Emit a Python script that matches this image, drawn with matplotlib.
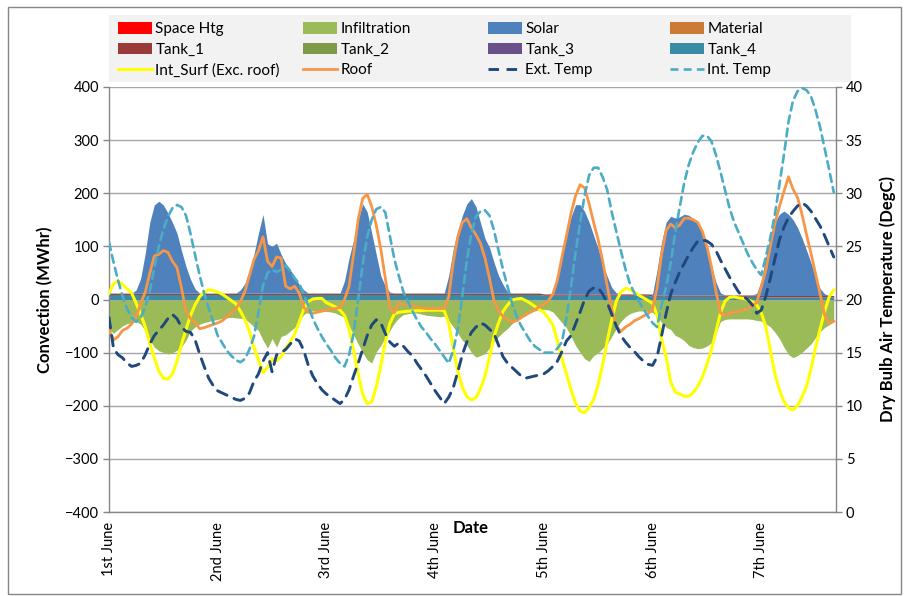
import numpy as np
import matplotlib
matplotlib.use("Agg")
import matplotlib.pyplot as plt
from matplotlib.patches import Patch, Rectangle
from matplotlib.lines import Line2D
from matplotlib.transforms import ScaledTranslation

plt.rcParams['font.family'] = ['Lato', 'DejaVu Sans']

# ---------------------------------------------------------------- data
# hourly values, 1st June 00:00 onwards
hours = np.arange(161)
day_ticks = [0, 24, 48, 72, 96, 120, 144]
day_labels = ['1st June', '2nd June', '3rd June', '4th June',
              '5th June', '6th June', '7th June']

# convection components (MWhr)
solar = [
    0, 0, 0, 0, 0, 0, 6, 28, 75, 133, 166, 173, 166, 151, 133, 113, 80, 50, 26, 8, 0, 0, 0, 0,
    0, 0, 0, 0, 0, 6, 18, 43, 73, 113, 148, 93, 88, 94, 73, 56, 44, 31, 16, 6, 0, 0, 0, 0,
    0, 0, 0, 0, 23, 66, 100, 138, 168, 153, 113, 73, 33, 13, 2, 0, 0, 0, 0, 0, 0, 0, 0, 0,
    0, 0, 0, 33, 83, 118, 146, 168, 178, 163, 133, 103, 86, 58, 33, 16, 2, 0, 0, 0, 0, 0, 0, 0,
    0, 0, 2, 25, 70, 110, 145, 168, 168, 155, 135, 110, 85, 55, 33, 12, 2, 0, 0, 0, 0, 0, 0, 0,
    2, 47, 100, 137, 148, 145, 147, 152, 150, 144, 132, 117, 84, 54, 24, 4, 0, 0, 0, 0, 0, 0, 0, 3,
    28, 73, 111, 138, 153, 159, 153, 143, 128, 108, 85, 61, 35, 13, 3, 0, 0,
]
infiltration = [
    -55, -62, -55, -48, -44, -42, -40, -45, -57, -75, -88, -95, -98, -101, -99, -94, -88, -75, -58, -50, -45, -42, -40, -38,
    -36, -34, -33, -32, -33, -34, -35, -42, -50, -57, -75, -90, -72, -88, -68, -65, -58, -51, -38, -27, -21, -20, -20, -20,
    -21, -22, -24, -28, -32, -48, -65, -82, -98, -112, -118, -97, -85, -70, -57, -43, -33, -27, -25, -24, -24, -26, -28, -29,
    -30, -31, -30, -38, -50, -62, -75, -84, -98, -107, -104, -100, -90, -78, -68, -60, -53, -44, -37, -33, -28, -24, -20, -18,
    -17, -18, -22, -32, -42, -52, -68, -85, -98, -110, -115, -104, -99, -90, -82, -68, -53, -40, -31, -25, -22, -20, -20, -21,
    -23, -30, -42, -51, -55, -66, -70, -76, -85, -89, -91, -90, -86, -80, -62, -40, -36, -35, -35, -35, -35, -35, -36, -38,
    -39, -44, -50, -60, -72, -88, -102, -108, -104, -98, -90, -82, -70, -59, -51, -46, -40,
]
material = [
    -1.5, -1.5, -1.5, -1.5, -1.5, -1.5, -1.5, -1.5, -1.5, -1.5, -1.5, -1.5, -1.5, -1.5, -1.5, -1.5, -1.5, -1.5, -1.5, -1.5, -1.5, -1.5, -1.5, -1.5,
    -1.5, -1.5, -1.5, -1.5, -1.5, -1.5, -1.5, -1.5, -1.5, -1.5, -1.5, -1.5, -1.5, -1.5, -1.5, -1.5, -1.5, -1.5, -1.5, -1.5, -1.5, -1.5, -1.5, -1.5,
    -1.5, -1.5, -1.5, -1.5, -1.5, -1.5, -1.5, -1.5, -1.5, -1.5, -1.5, -1.5, -1.5, -1.5, -1.5, -1.5, -1.5, -1.5, -1.5, -1.5, -1.5, -1.5, -1.5, -1.5,
    -1.5, -1.5, -1.5, -1.5, -1.5, -1.5, -1.5, -1.5, -1.5, -1.5, -1.5, -1.5, -1.5, -1.5, -1.5, -1.5, -1.5, -1.5, -1.5, -1.5, -1.5, -1.5, -1.5, -1.5,
    -1.5, -1.5, -1.5, -1.5, -1.5, -1.5, -1.5, -1.5, -1.5, -1.5, -1.5, -1.5, -1.5, -1.5, -1.5, -1.5, -1.5, -1.5, -1.5, -1.5, -1.5, -1.5, -1.5, -1.5,
    -1.5, -1.5, -1.5, -1.5, -1.5, -1.5, -1.5, -1.5, -1.5, -1.5, -1.5, -1.5, -1.5, -1.5, -1.5, -1.5, -1.5, -1.5, -1.5, -1.5, -1.5, -1.5, -1.5, -1.5,
    -1.5, -1.5, -1.5, -1.5, -1.5, -1.5, -1.5, -1.5, -1.5, -1.5, -1.5, -1.5, -1.5, -1.5, -1.5, -1.5, -1.5,
]
tank_1 = [
    2.5, 2.5, 2.5, 2.5, 2.5, 2.5, 2.5, 2.5, 2.5, 2.5, 2.5, 2.5, 2.5, 2.5, 2.5, 2.5, 2.5, 2.5, 2.5, 2.5, 2.5, 2.5, 2.5, 2.5,
    2.5, 2.5, 2.5, 2.5, 2.5, 2.5, 2.5, 2.5, 2.5, 2.5, 2.5, 2.5, 2.5, 2.5, 2.5, 2.5, 2.5, 2.5, 2.5, 2.5, 2.5, 2.5, 2.5, 2.5,
    2.5, 2.5, 2.5, 2.5, 2.5, 2.5, 2.5, 2.5, 2.5, 2.5, 2.5, 2.5, 2.5, 2.5, 2.5, 2.5, 2.5, 2.5, 2.5, 2.5, 2.5, 2.5, 2.5, 2.5,
    2.5, 2.5, 2.5, 2.5, 2.5, 2.5, 2.5, 2.5, 2.5, 2.5, 2.5, 2.5, 2.5, 2.5, 2.5, 2.5, 2.5, 2.5, 2.5, 2.5, 2.5, 2.5, 2.5, 2.5,
    2.5, 2.5, 2.5, 2.5, 2.5, 2.5, 2.5, 2.5, 2.5, 2.5, 2.5, 2.5, 2.5, 2.5, 2.5, 2.5, 2.5, 2.5, 2.5, 2.5, 2.5, 2.5, 2.5, 2.5,
    2.5, 2.5, 2.5, 2.5, 2.5, 2.5, 2.5, 2.5, 2.5, 2.5, 2.5, 2.5, 2.5, 2.5, 2.5, 2.5, 2.5, 2.5, 2.5, 2.5, 2.5, 2.5, 2.5, 2.5,
    2.5, 2.5, 2.5, 2.5, 2.5, 2.5, 2.5, 2.5, 2.5, 2.5, 2.5, 2.5, 2.5, 2.5, 2.5, 2.5, 2.5,
]
tank_4 = [
    9.5, 9.5, 9.5, 9.5, 9.5, 9.5, 9.5, 9.5, 9.5, 9.5, 9.5, 9.5, 9.5, 9.5, 9.5, 9.5, 9.5, 9.5, 9.5, 9.5, 9.5, 9.5, 9.5, 9.5,
    9.5, 9.5, 9.5, 9.5, 9.5, 9.5, 9.5, 9.5, 9.5, 9.5, 9.5, 9.5, 9.5, 9.5, 9.5, 9.5, 9.5, 9.5, 9.5, 9.5, 9.5, 9.5, 9.5, 9.5,
    9.5, 9.5, 9.5, 9.5, 9.5, 9.5, 9.5, 9.5, 9.5, 9.5, 9.5, 9.5, 9.5, 9.5, 9.5, 9.5, 9.5, 9.5, 9.5, 9.5, 9.5, 9.5, 9.5, 9.5,
    9.5, 9.5, 9.5, 9.5, 9.5, 9.5, 9.5, 9.5, 9.5, 9.5, 9.5, 9.5, 9.5, 9.5, 9.5, 9.5, 9.5, 9.5, 9.5, 9.5, 9.5, 9.5, 9.5, 9.5,
    8.0, 8.0, 8.0, 8.0, 8.0, 8.0, 8.0, 8.0, 8.0, 8.0, 8.0, 8.0, 8.0, 8.0, 8.0, 8.0, 8.0, 8.0, 8.0, 8.0, 8.0, 8.0, 8.0, 8.0,
    6.0, 6.0, 6.0, 6.0, 6.0, 6.0, 6.0, 6.0, 6.0, 6.0, 6.0, 6.0, 6.0, 6.0, 6.0, 6.0, 6.0, 6.0, 6.0, 6.0, 6.0, 6.0, 6.0, 6.0,
    5.0, 5.0, 5.0, 5.0, 5.0, 5.0, 5.0, 5.0, 5.0, 5.0, 5.0, 5.0, 5.0, 5.0, 5.0, 5.0, 5.0,
]
int_surf = [
    12, 30, 35, 28, 20, 12, -7, -28, -51, -82, -110, -135, -148, -150, -140, -116, -85, -56, -30, -10, 5, 14, 18, 17,
    14, 10, 4, -2, -8, -22, -38, -60, -90, -114, -138, -128, -112, -115, -108, -92, -80, -65, -42, -18, -4, 1, 2, 2,
    -6, -10, -14, -20, -30, -55, -95, -140, -178, -196, -193, -165, -125, -80, -45, -27, -24, -23, -22, -22, -21, -21, -20, -20,
    -20, -20, -21, -45, -92, -135, -165, -183, -189, -185, -168, -145, -108, -70, -44, -22, -10, -1, 1, 2, -2, -7, -13, -19,
    -24, -35, -48, -78, -112, -140, -170, -195, -210, -213, -203, -188, -160, -122, -78, -38, -3, 14, 21, 19, 14, 8, 3, -2,
    -7, -30, -75, -108, -155, -174, -178, -182, -182, -175, -163, -146, -122, -95, -60, -25, -3, 4, 5, 3, 2, 0, -4, -10,
    -25, -51, -95, -140, -170, -192, -204, -208, -200, -183, -164, -130, -90, -55, -22, 5, 18,
]
roof = [
    -57, -76, -70, -58, -54, -46, -32, -8, 14, 49, 82, 85, 92, 89, 72, 60, 22, -22, -36, -43, -55, -53, -50, -47,
    -44, -40, -33, -25, -18, -4, 15, 45, 75, 92, 118, 72, 62, 80, 78, 25, 20, 25, 12, -15, -24, -26, -24, -22,
    -20, -18, -17, -15, 0, 25, 85, 150, 190, 198, 175, 140, 95, 40, -15, -25, -7, -9, -10, -12, -14, -16, -17, -17,
    -17, -17, -17, 5, 70, 118, 145, 152, 135, 122, 106, 78, 40, -2, -22, -32, -38, -42, -40, -34, -29, -23, -19, -14,
    -9, -2, 10, 37, 80, 120, 162, 195, 216, 210, 180, 145, 112, 72, 25, -18, -50, -60, -52, -47, -40, -36, -31, -27,
    -18, 22, 85, 130, 142, 135, 140, 153, 153, 150, 145, 128, 100, 62, 15, -25, -30, -26, -24, -22, -20, -18, -12, -6,
    24, 55, 100, 143, 175, 203, 231, 208, 192, 160, 122, 86, 48, 10, -30, -45, -41,
]

# dry bulb air temperatures (DegC)
ext_temp = [
    18.3, 15.4, 14.8, 14.5, 14.0, 13.7, 13.8, 14.0, 14.8, 15.8, 16.6, 17.1, 17.6, 18.2, 18.6, 18.2, 17.4, 17.0, 16.9, 16.2, 14.9, 13.7, 12.6, 11.9,
    11.4, 11.2, 11.0, 10.8, 10.6, 10.5, 10.7, 11.2, 12.3, 13.0, 14.2, 15.0, 13.2, 14.8, 15.0, 15.3, 15.8, 16.3, 16.1, 15.2, 13.8, 12.8, 12.1, 11.5,
    11.1, 10.8, 10.5, 10.2, 10.6, 11.5, 12.8, 14.0, 15.3, 16.6, 17.6, 18.1, 17.8, 16.8, 16.0, 15.6, 15.9, 15.6, 15.1, 14.7, 14.0, 13.4, 12.8, 12.1,
    11.4, 10.8, 10.2, 10.8, 11.7, 13.2, 14.8, 16.0, 16.9, 17.4, 17.8, 17.6, 17.2, 16.8, 15.7, 14.6, 14.0, 13.6, 13.2, 12.8, 12.6, 12.7, 12.8, 12.9,
    13.0, 13.3, 13.7, 14.2, 15.1, 16.1, 16.6, 17.7, 18.8, 20.0, 20.8, 21.1, 21.1, 20.5, 19.7, 18.6, 17.5, 16.6, 16.0, 15.5, 15.1, 14.6, 14.2, 13.9,
    13.8, 14.6, 16.6, 18.7, 20.5, 21.6, 22.6, 23.4, 24.2, 24.9, 25.5, 25.6, 25.5, 25.2, 24.6, 23.7, 22.9, 22.1, 21.4, 20.7, 20.3, 20.0, 19.5, 18.7,
    19.0, 20.3, 22.0, 23.8, 25.6, 26.8, 27.7, 28.3, 28.8, 29.1, 28.8, 28.3, 27.6, 26.9, 26.0, 25.0, 24.0,
]
int_temp = [
    25.4, 23.5, 21.8, 20.3, 19.1, 18.3, 17.9, 18.3, 19.3, 20.8, 23.0, 25.0, 26.6, 27.8, 28.6, 28.9, 28.7, 27.9, 26.2, 24.2, 22.3, 20.6, 19.2, 17.9,
    16.6, 15.9, 15.2, 14.7, 14.3, 14.1, 14.4, 15.3, 16.5, 18.8, 21.3, 22.5, 22.8, 22.6, 22.8, 23.2, 22.7, 22.0, 21.5, 20.5, 19.4, 18.2, 17.3, 16.5,
    15.8, 15.2, 14.5, 14.0, 13.7, 14.8, 16.8, 20.0, 23.3, 25.9, 27.5, 28.5, 28.7, 28.2, 26.0, 23.8, 22.2, 20.7, 19.8, 18.9, 18.1, 17.4, 16.9, 16.3,
    15.8, 15.2, 14.6, 14.0, 15.2, 17.2, 20.3, 23.7, 26.2, 27.8, 28.3, 28.4, 27.9, 26.5, 24.6, 22.8, 21.2, 19.6, 18.4, 17.5, 16.8, 16.1, 15.6, 15.3,
    15.0, 15.0, 15.0, 15.4, 16.0, 18.3, 21.2, 24.4, 27.2, 29.8, 31.7, 32.4, 32.4, 31.5, 30.3, 28.2, 26.4, 24.6, 22.9, 21.5, 20.6, 19.8, 19.1, 18.4,
    17.8, 17.4, 19.5, 21.2, 23.4, 26.3, 28.7, 31.0, 32.7, 33.9, 34.8, 35.4, 35.4, 34.9, 33.6, 32.0, 30.3, 28.6, 27.3, 26.3, 25.3, 24.3, 23.5, 22.8,
    22.3, 24.0, 25.8, 28.0, 30.8, 33.6, 36.7, 38.7, 39.6, 39.9, 39.7, 39.1, 37.8, 36.2, 34.2, 32.2, 30.1,
]

# ---------------------------------------------------------------- colours
C_SPACE = '#FF0000'
C_INFIL = '#9BBB59'
C_SOLAR = '#4F81BD'
C_MATER = '#CC7A36'
C_TANK1 = '#9B3B39'
C_TANK2 = '#7F9A48'
C_TANK3 = '#6A5088'
C_TANK4 = '#3A8CA4'
C_SURF = '#FFFF00'
C_ROOF = '#F79646'
C_EXT = '#1F497D'
C_INT = '#4BACC6'
GRID = '#A6A6A6'
AXIS = '#868686'

W, H = 906, 596


def fx(px):
    return px / W


def fy(py):
    return 1 - py / H


fig = plt.figure(figsize=(W / 100, H / 100), dpi=100)
fig.patch.set_facecolor('white')

# outer chart frame and legend background
fig.add_artist(Rectangle((fx(8), fy(594)), fx(901) - fx(8), fy(7) - fy(594),
                         transform=fig.transFigure, fill=False,
                         edgecolor=AXIS, lw=1.0, zorder=0))
fig.add_artist(Rectangle((fx(109), fy(82)), fx(851) - fx(109), fy(15) - fy(82),
                         transform=fig.transFigure, facecolor='#F2F2F2',
                         edgecolor='none', zorder=0))

ax = fig.add_axes([fx(109), fy(512), fx(836) - fx(109), fy(87) - fy(512)])
ax2 = ax.twinx()

x = hours
t4 = np.array(tank_4, dtype=float)
t1 = np.array(tank_1, dtype=float)
sol = np.array(solar, dtype=float)
mat = np.array(material, dtype=float)
inf = np.array(infiltration, dtype=float)

# stacked areas
ax.fill_between(x, 0, t4, color=C_TANK4, lw=0, zorder=2)
ax.fill_between(x, t4, t4 + t1, color=C_TANK1, lw=0, zorder=2)
ax.fill_between(x, t4 + t1, t4 + t1 + sol, color=C_SOLAR, lw=0, zorder=2)
ax.fill_between(x, 0, mat, color=C_MATER, lw=0, zorder=2)
ax.fill_between(x, mat, mat + inf, color=C_INFIL, lw=0, zorder=2)

# surface convection lines
ax.plot(x, int_surf, color=C_SURF, lw=2.2, zorder=3, solid_joinstyle='round')
ax.plot(x, roof, color=C_ROOF, lw=2.0, zorder=4, solid_joinstyle='round')

# temperatures on the secondary axis
ax2.plot(x, ext_temp, color=C_EXT, lw=2.1, dashes=(3.6, 2.6),
         dash_capstyle='round')
ax2.plot(x, int_temp, color=C_INT, lw=1.9, dashes=(3.0, 2.0),
         dash_capstyle='round')

ax.set_xlim(0, 160.5)
ax.set_ylim(-400, 400)
ax.set_yticks(np.arange(-400, 401, 100))
ax2.set_ylim(0, 40)
ax2.set_yticks(np.arange(0, 41, 5))

ax.yaxis.grid(True, color=GRID, lw=1.0)
ax.set_axisbelow(True)

ax.set_xticks(day_ticks)
ax.set_xticklabels(day_labels, rotation=90, va='top', ha='center')
shift = ScaledTranslation(5 / 72, 0, fig.dpi_scale_trans)
for lab in ax.get_xticklabels():
    lab.set_transform(lab.get_transform() + shift)

tick_font = 10.5
ax.tick_params(axis='x', length=0, pad=7, labelsize=tick_font)
ax.tick_params(axis='y', length=4, width=1, color=AXIS, pad=3,
               labelsize=tick_font)
ax2.tick_params(axis='y', length=4, width=1, color=AXIS, pad=3,
                labelsize=tick_font)

for a in (ax, ax2):
    a.spines['top'].set_visible(False)
    for s in ('left', 'right', 'bottom'):
        a.spines[s].set_color(AXIS)
        a.spines[s].set_linewidth(1.0)
ax.spines['right'].set_visible(False)
ax2.spines['left'].set_visible(False)
ax2.spines['bottom'].set_visible(False)

fig.text(fx(45), fy(299.5), 'Convection (MWhr)', rotation=90,
         ha='center', va='center', fontsize=12, fontweight='bold')
fig.text(fx(888), fy(299.5), 'Dry Bulb Air Temperature (DegC)', rotation=90,
         ha='center', va='center', fontsize=12, fontweight='bold')
fig.text(fx(471), fy(528), 'Date', ha='center', va='center',
         fontsize=12, fontweight='bold')

# legend, four columns of three entries
columns = [
    [(Patch(facecolor=C_SPACE), 'Space Htg'),
     (Patch(facecolor=C_TANK1), 'Tank_1'),
     (Line2D([], [], color=C_SURF, lw=2.2), 'Int_Surf (Exc. roof)')],
    [(Patch(facecolor=C_INFIL), 'Infiltration'),
     (Patch(facecolor=C_TANK2), 'Tank_2'),
     (Line2D([], [], color=C_ROOF, lw=2.0), 'Roof')],
    [(Patch(facecolor=C_SOLAR), 'Solar'),
     (Patch(facecolor=C_TANK3), 'Tank_3'),
     (Line2D([], [], color=C_EXT, lw=2.1, dashes=(3.6, 2.6)), 'Ext. Temp')],
    [(Patch(facecolor=C_MATER), 'Material'),
     (Patch(facecolor=C_TANK4), 'Tank_4'),
     (Line2D([], [], color=C_INT, lw=1.9, dashes=(3.0, 2.0)), 'Int. Temp')],
]
for x0, entries in zip([118, 303, 488, 670], columns):
    handles = [e[0] for e in entries]
    labels = [e[1] for e in entries]
    fig.legend(handles, labels, loc='upper left',
               bbox_to_anchor=(fx(x0), fy(22)), frameon=False,
               borderpad=0, borderaxespad=0, handlelength=2.2,
               handleheight=0.8, handletextpad=0.25, labelspacing=0.42,
               fontsize=11)

fig.savefig('out.png', dpi=100)
